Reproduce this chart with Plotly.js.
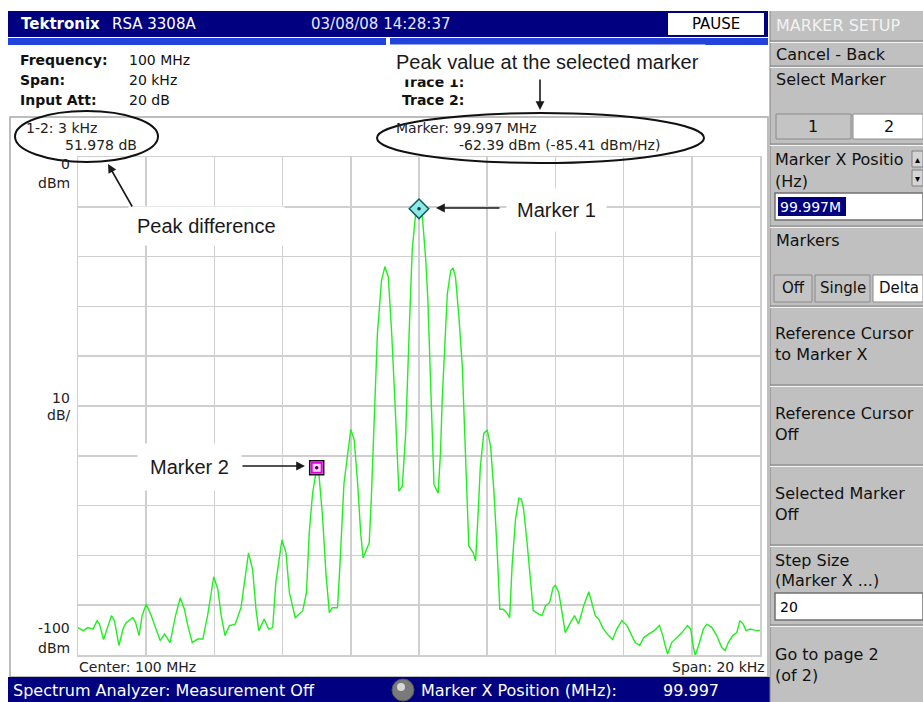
<!DOCTYPE html>
<html>
<head>
<meta charset="utf-8">
<script src="https://cdn.plot.ly/plotly-3.0.1.min.js"></script>
<style>
html,body{margin:0;padding:0;background:#fff;}
#chart{width:923px;height:702px;}
</style>
</head>
<body>
<div id="chart"></div>
<script>
// ---- data (frequency offset from 100 MHz centre in kHz, level in dBm) ----
const freqOffsetKHz = [
-10.00,-9.85,-9.71,-9.56,-9.44,-9.37,-9.25,-9.15,-9.02,-8.93,-8.80,-8.68,-8.59,-8.39,-8.31,-8.21,-8.12,-8.00,
-7.85,-7.73,-7.59,-7.46,-7.30,-7.14,-7.00,-6.88,-6.78,-6.65,-6.49,-6.34,-6.20,-6.02,-5.90,-5.80,-5.69,-5.56,
-5.39,-5.22,-5.00,-4.88,-4.78,-4.70,-4.54,-4.41,-4.29,-4.20,-4.02,-3.90,-3.80,-3.63,-3.41,-3.30,-3.22,-3.12,
-3.00,-2.93,-2.83,-2.73,-2.63,-2.54,-2.39,-2.32,-2.20,-2.00,-1.90,-1.80,-1.71,-1.64,-1.46,-1.40,-1.32,-1.22,
-1.10,-1.00,-0.90,-0.80,-0.70,-0.59,-0.49,-0.39,-0.29,-0.20,-0.10,0.00,
0.10,0.20,0.26,0.32,0.39,0.44,0.56,0.63,0.68,0.75,0.83,0.93,1.00,1.07,1.17,1.27,1.32,1.40,1.46,1.59,1.66,
1.73,1.80,1.90,2.00,2.10,2.20,2.29,2.37,2.47,2.57,2.66,2.73,2.83,2.93,3.00,3.07,3.17,3.27,3.35,3.51,3.61,
3.71,3.83,3.93,4.00,4.10,4.20,4.29,4.44,4.56,4.68,4.83,4.98,5.07,5.17,5.27,5.41,5.56,5.68,5.80,5.95,6.10,
6.21,6.34,6.47,6.59,6.73,6.90,7.05,7.15,7.22,7.29,7.41,7.56,7.71,7.87,7.97,8.03,8.10,8.20,8.34,8.44,8.59,
8.73,8.88,8.98,9.07,9.20,9.32,9.41,9.51,9.59,9.71,9.85,10.00];
const levelDbm = [
-94.5,-95.1,-94.5,-94.8,-93.1,-93.8,-96.9,-94.8,-92.1,-93.1,-98.1,-94.8,-93.5,-92.5,-93.5,-96.1,-92.1,-89.8,
-92.1,-94.5,-97.1,-95.8,-97.5,-92.1,-88.5,-90.8,-94.1,-97.5,-96.8,-96.8,-92.1,-84.3,-86.8,-92.1,-96.1,-94.1,
-93.8,-90.5,-79.5,-82.8,-90.8,-95.1,-92.8,-94.8,-94.5,-85.5,-76.9,-79.5,-87.5,-92.5,-91.1,-87.5,-75.5,-67.5,
-62.4,-64.1,-72.1,-83.5,-91.5,-90.5,-90.5,-82.1,-65.5,-54.7,-56.8,-65.5,-75.5,-80.5,-77.5,-68.8,-52.8,-35.5,
-24.8,-22.0,-24.1,-35.5,-50.1,-67.1,-66.1,-55.5,-35.5,-18.8,-11.5,-10.4,
-12.1,-20.8,-28.8,-43.5,-55.5,-65.8,-67.5,-59.5,-48.8,-38.8,-27.5,-22.8,-22.3,-24.1,-32.1,-42.1,-52.1,-68.8,-78.1,-79.5,-81.1,
-72.1,-62.1,-55.5,-54.8,-58.1,-67.5,-78.8,-90.8,-90.8,-91.5,-92.5,-82.1,-72.8,-68.5,-68.7,-70.8,-77.5,-84.8,-91.1,-91.8,-92.1,
-90.1,-89.5,-86.5,-86.0,-87.5,-92.1,-95.5,-93.5,-92.1,-93.8,-90.1,-87.3,-89.5,-92.1,-92.8,-94.8,-96.1,-96.9,-94.8,-93.1,-94.1,
-95.8,-97.5,-98.1,-96.5,-95.8,-95.1,-94.1,-96.1,-98.1,-99.8,-97.5,-96.5,-95.5,-94.1,-94.8,-97.8,-100.1,-98.1,-94.8,-93.8,-94.5,
-96.1,-98.5,-99.1,-97.5,-96.1,-95.5,-93.1,-93.8,-95.1,-94.8,-95.0,-95.1];
const markerNames = ["Marker 1","Marker 2"];
const markerOffsetKHz = [0, -3];
const markerLevelDbm = [-10.41, -62.39];
const yTickLabels = [["0","dBm"],["10","dB/"],["-100","dBm"]];

// ---- pixel helpers for screen chrome ----
const L=78, R=760, T=157, B=655;
const X = px => (px-L)/(R-L);
const Y = py => (B-py)/(B-T);
const F = 'DejaVu Sans, Verdana, sans-serif';
const CF = 'Liberation Sans Narrow, Arial Narrow, Liberation Sans, Arial, sans-serif';

const shapes = [];
const ann = [];
function rect(x0,y0,x1,y1,fill,line,lw,layer){
  shapes.push({type:'rect',xref:'paper',yref:'paper',x0:X(x0),x1:X(x1),y0:Y(y1),y1:Y(y0),
    fillcolor:fill||'rgba(0,0,0,0)',line:{color:line||'rgba(0,0,0,0)',width:lw||0},layer:layer||'above'});
}
function hline(x0,x1,y,color,w){
  shapes.push({type:'line',xref:'paper',yref:'paper',x0:X(x0),x1:X(x1),y0:Y(y),y1:Y(y),line:{color:color,width:w||1},layer:'above'});
}
function ellipse(x0,y0,x1,y1,fill,line,lw){
  shapes.push({type:'circle',xref:'paper',yref:'paper',x0:X(x0),x1:X(x1),y0:Y(y1),y1:Y(y0),
    fillcolor:fill||'rgba(0,0,0,0)',line:{color:line||'rgba(0,0,0,0)',width:lw||0},layer:'above'});
}
function txt(t,px,py,o){
  o=o||{};
  ann.push({text:t,xref:'paper',yref:'paper',x:X(px),y:Y(py),xanchor:o.anchor||'left',yanchor:'middle',
    showarrow:false,font:{family:o.family||F,size:o.size||14,color:o.color||'#111'},
    bgcolor:o.bg||'rgba(0,0,0,0)',borderpad:o.pad||0});
}
function arrow(hx,hy,tx,ty){
  ann.push({text:'',xref:'paper',yref:'paper',x:X(hx),y:Y(hy),ax:tx-hx,ay:ty-hy,showarrow:true,
    arrowhead:2,arrowsize:1.1,arrowwidth:1.6,arrowcolor:'#1a1a1a',standoff:0});
}

// frame around the graph
rect(10,117,768,677,null,'#a8a8a8',1.5,'below');

// title bar
rect(8,11,768,37,'#000080');
txt('<b>Tektronix</b>',20,24,{color:'#fff',size:15});
txt('RSA 3308A',111,24,{color:'#fff',size:15});
txt('03/08/08 14:28:37',310,24,{color:'#e8e8ff',size:15});
rect(668,13,764,35,'#ffffff');
txt('PAUSE',716,24,{anchor:'center',size:15,color:'#000'});
rect(8,38,386,45,'#2244dd');
rect(390,38,768,45,'#2244dd');

// header
txt('<b>Frequency:</b>',19,60,{size:14});
txt('<b>Span:</b>',19,80,{size:14});
txt('<b>Input Att:</b>',19,100,{size:14});
txt('100 MHz',128,60,{size:14});
txt('20 kHz',128,80,{size:14});
txt('20 dB',128,100,{size:14});
txt('<b>Trace 1:</b>',401,82,{size:14});
txt('<b>Trace 2:</b>',401,100,{size:14});
txt('Peak value at the selected marker',389,62,{family:CF,size:20,color:'#1a1a1a',bg:'#fff',pad:6});
arrow(540,110,540,78);

// in-graph readouts
txt('1-2: 3 kHz',25,128,{size:14,color:'#222'});
txt('51.978 dB',138,145,{anchor:'right',size:14,color:'#222'});
txt('Marker: 99.997 MHz',395,128,{size:14,color:'#222'});
txt('-62.39 dBm (-85.41 dBm/Hz)',458,145,{size:14,color:'#222'});
ellipse(15,111,158,162,null,'#111',2);
ellipse(377,113,704,163,null,'#111',2);

// y labels
const yLabY = [[164,183],[398,415],[628,648]];
yTickLabels.forEach((p,i)=>{
  txt(p[0],71,yLabY[i][0],{anchor:'right',size:14,color:'#222'});
  txt(p[1],71,yLabY[i][1],{anchor:'right',size:14,color:'#222'});
});
txt('Center: 100 MHz',78,667,{size:14,color:'#222'});
txt('Span: 20 kHz',766,667,{anchor:'right',size:14,color:'#222'});

// callouts
txt('Peak difference',206,226,{anchor:'center',family:CF,size:20,color:'#1a1a1a',bg:'#fff',pad:8});
arrow(108,164,133,208);
txt(markerNames[0],556,210,{anchor:'center',family:CF,size:20,color:'#1a1a1a',bg:'#fff',pad:10});
arrow(436,208,501,208);
txt(markerNames[1],189,467,{anchor:'center',family:CF,size:20,color:'#1a1a1a',bg:'#fff',pad:12});
arrow(305,466,241,466);

// bottom bar
rect(8,677,770,702,'#000080');
txt('Spectrum Analyzer: Measurement Off',12,690,{color:'#fff',size:16});
ellipse(392,679,414,701,'#7a7a7a','#555',1);
ellipse(397,683,405,691,'#d8d8d8',null,0);
txt('Marker X Position (MHz):',420,690,{color:'#fff',size:16});
txt('99.997',662,690,{color:'#fff',size:16});

// right panel
rect(770,11,923,702,'#c0c0c0');
shapes.push({type:'line',xref:'paper',yref:'paper',x0:X(770),x1:X(770),y0:Y(11),y1:Y(702),line:{color:'#808080',width:1},layer:'above'});
function sep(y){hline(770,923,y,'#808080',1.2);hline(770,923,y+1.5,'#f4f4f4',1);}
txt('MARKER SETUP',775,25,{size:16,color:'#f2f2f2'});
sep(41);
txt('Cancel - Back',775,54,{size:16});
sep(66);
txt('Select Marker',775,79,{size:16});
rect(776,114,851,139,'#c4c4c4','#8a8a8a',1);
rect(853,114,923,139,'#ffffff','#8a8a8a',1);
txt('1',813,127,{anchor:'center',size:16});
txt('2',889,127,{anchor:'center',size:16});
sep(144);
txt('Marker X Positio',774,159,{size:16});
txt('(Hz)',774,181,{size:16});
rect(912,151,923,167,'#d4d4d4','#808080',1);
rect(912,170,923,186,'#d4d4d4','#808080',1);
txt('▴',917,159,{anchor:'center',size:10,color:'#000'});
txt('▾',917,178,{anchor:'center',size:10,color:'#000'});
rect(775,193,923,220,'#ffffff','#707070',1.5);
rect(778,197,846,216,'#000080');
txt('99.997M',779,207,{size:14,color:'#fff'});
sep(226);
txt('Markers',775,240,{size:16});
rect(774,275,812,302,'#c4c4c4','#8a8a8a',1);
rect(815,275,870,302,'#c4c4c4','#8a8a8a',1);
rect(873,275,923,302,'#ffffff','#8a8a8a',1);
txt('Off',793,288,{anchor:'center',size:15});
txt('Single',843,288,{anchor:'center',size:15});
txt('Delta',878,288,{size:15});
sep(306);
txt('Reference Cursor',774,333,{size:16});
txt('to Marker X',774,354,{size:16});
sep(385);
txt('Reference Cursor',774,413,{size:16});
txt('Off',774,434,{size:16});
sep(465);
txt('Selected Marker',774,493,{size:16});
txt('Off',774,514,{size:16});
sep(545);
txt('Step Size',774,560,{size:16});
txt('(Marker X ...)',774,580,{size:16});
rect(775,593,923,620,'#ffffff','#707070',1.5);
txt('20',779,607,{size:14,color:'#000'});
sep(625);
txt('Go to page 2',774,654,{size:16});
txt('(of 2)',774,675,{size:16});

const traces = [
  {x:freqOffsetKHz,y:levelDbm,type:'scatter',mode:'lines',line:{color:'#22ee22',width:1.4},hoverinfo:'skip'},
  {x:[markerOffsetKHz[0]],y:[markerLevelDbm[0]],type:'scatter',mode:'markers',cliponaxis:false,
   marker:{symbol:'diamond',size:15,color:'#8ee8e8',line:{color:'#0d5c5c',width:1.5}}},
  {x:[markerOffsetKHz[0]],y:[markerLevelDbm[0]],type:'scatter',mode:'markers',cliponaxis:false,
   marker:{symbol:'circle',size:3.5,color:'#0d3c3c'}},
  {x:[markerOffsetKHz[1]],y:[markerLevelDbm[1]],type:'scatter',mode:'markers',cliponaxis:false,
   marker:{symbol:'square',size:14,color:'#ffd8ff',line:{color:'#111',width:1.5}}},
  {x:[markerOffsetKHz[1]],y:[markerLevelDbm[1]],type:'scatter',mode:'markers',cliponaxis:false,
   marker:{symbol:'square-open',size:10,color:'#e000e0',line:{color:'#e000e0',width:2}}},
  {x:[markerOffsetKHz[1]],y:[markerLevelDbm[1]],type:'scatter',mode:'markers',cliponaxis:false,
   marker:{symbol:'circle',size:3.5,color:'#400040'}}
];

const layout = {
  width:923,height:702,
  margin:{l:78,r:163,t:157,b:47,pad:0},
  paper_bgcolor:'#ffffff',plot_bgcolor:'#ffffff',
  showlegend:false,
  xaxis:{range:[-10,10],dtick:2,tick0:-10,showticklabels:false,ticks:'',showgrid:true,gridcolor:'#cfcfcf',gridwidth:1.5,
         zeroline:false,showline:true,mirror:true,linecolor:'#cfcfcf',linewidth:1.5,fixedrange:true},
  yaxis:{range:[-100,0],dtick:10,tick0:-100,showticklabels:false,ticks:'',showgrid:true,gridcolor:'#cfcfcf',gridwidth:1.5,
         zeroline:false,showline:true,mirror:true,linecolor:'#cfcfcf',linewidth:1.5,fixedrange:true},
  shapes:shapes,
  annotations:ann
};
Plotly.newPlot('chart',traces,layout,{displayModeBar:false,staticPlot:true});
</script>
</body>
</html>
